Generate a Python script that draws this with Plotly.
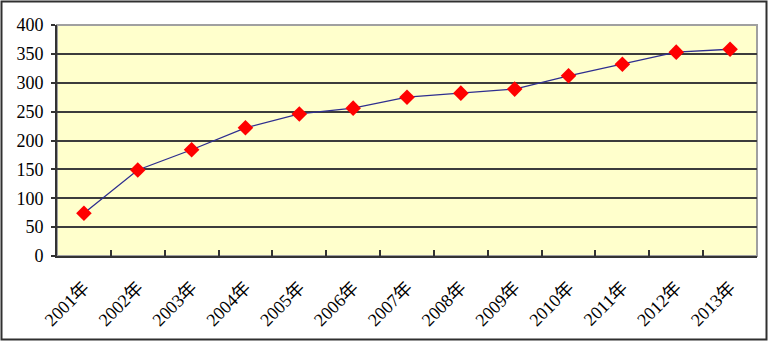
import plotly.graph_objects as go

years = ["2001年", "2002年", "2003年", "2004年", "2005年", "2006年", "2007年",
         "2008年", "2009年", "2010年", "2011年", "2012年", "2013年"]
values = [74, 149, 184, 222, 246, 256, 275, 282, 289, 312, 332, 353, 358]
y_ticks = [0, 50, 100, 150, 200, 250, 300, 350, 400]

W, H = 768, 341
ml, mr, mt, mb = 57, 11, 25, 85
pw, ph = W - ml - mr, H - mt - mb

font = "Times New Roman, Liberation Serif, Noto Sans CJK SC, serif"

fig = go.Figure()
fig.add_trace(go.Scatter(
    x=years, y=values, mode="lines+markers",
    line=dict(color="#2E2E8F", width=1.3),
    marker=dict(symbol="diamond", size=12, color="#FF0000", line=dict(width=0)),
    cliponaxis=False,
))

fig.update_layout(
    width=W, height=H,
    margin=dict(l=ml, r=mr, t=mt, b=mb),
    paper_bgcolor="white",
    plot_bgcolor="#FFFFCC",
    showlegend=False,
    font=dict(family=font, size=16, color="#000000"),
    xaxis=dict(
        type="category",
        tickson="boundaries",
        ticks="inside", ticklen=6, tickwidth=2, tickcolor="#333333",
        showline=True, linecolor="#333333", linewidth=2,
        showgrid=False,
        tickangle=-45,
        tickfont=dict(family=font, size=18),
        ticklabelstandoff=12,
        range=[-0.5, 12.5],
    ),
    yaxis=dict(
        range=[0, 400],
        tickvals=y_ticks,
        ticks="outside", ticklen=4, tickwidth=2, tickcolor="#333333",
        showline=True, linecolor="#333333", linewidth=2,
        showgrid=True, gridcolor="#3C3C3C", gridwidth=2,
        zeroline=False,
        tickfont=dict(family=font, size=18),
        ticklabelstandoff=4,
    ),
    shapes=[
        dict(type="rect", xref="paper", yref="paper", x0=0, y0=0, x1=1, y1=1,
             line=dict(color="#A0A0A0", width=2), layer="below"),
        dict(type="rect", xref="paper", yref="paper",
             x0=-(ml - 1.5) / pw, x1=1 + (mr - 1.5) / pw,
             y0=-(mb - 1.5) / ph, y1=1 + (mt - 1.5) / ph,
             line=dict(color="#303030", width=2)),
    ],
)

fig.write_html("out.html")
